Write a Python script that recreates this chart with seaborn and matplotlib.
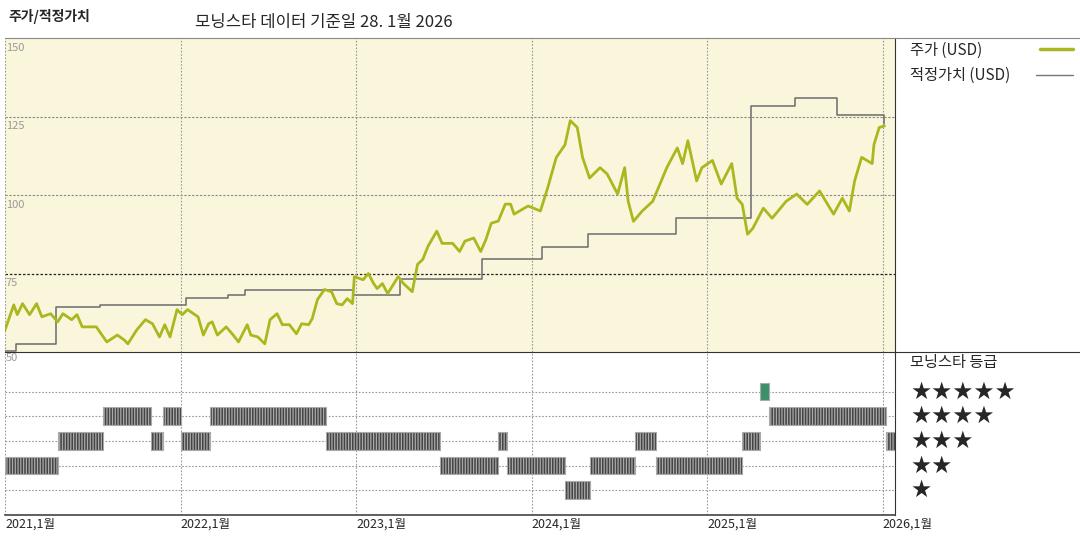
import numpy as np
import pandas as pd
import matplotlib
matplotlib.use("Agg")
import matplotlib.pyplot as plt
from matplotlib.lines import Line2D
import seaborn as sns

# price (USD), decimal years
price_t = [2021.00, 2021.05, 2021.07, 2021.10, 2021.14, 2021.18, 2021.21, 2021.26, 2021.30, 2021.33,
           2021.38, 2021.41, 2021.44, 2021.52, 2021.58, 2021.64, 2021.68, 2021.70, 2021.75, 2021.80,
           2021.84, 2021.88, 2021.91, 2021.94, 2021.98, 2022.01, 2022.04, 2022.10, 2022.13, 2022.16,
           2022.18, 2022.21, 2022.26, 2022.30, 2022.33, 2022.38, 2022.40, 2022.44, 2022.48, 2022.51,
           2022.55, 2022.58, 2022.62, 2022.66, 2022.69, 2022.73, 2022.75, 2022.78, 2022.82, 2022.86,
           2022.89, 2022.92, 2022.95, 2022.98, 2022.99, 2023.04, 2023.07, 2023.10, 2023.12, 2023.15,
           2023.18, 2023.24, 2023.27, 2023.32, 2023.35, 2023.38, 2023.41, 2023.46, 2023.49, 2023.55,
           2023.59, 2023.62, 2023.67, 2023.71, 2023.74, 2023.77, 2023.81, 2023.85, 2023.88, 2023.90,
           2023.98, 2024.05, 2024.09, 2024.14, 2024.19, 2024.22, 2024.26, 2024.29, 2024.33, 2024.39,
           2024.43, 2024.49, 2024.53, 2024.55, 2024.58, 2024.63, 2024.69, 2024.77, 2024.83, 2024.86,
           2024.89, 2024.94, 2024.97, 2025.03, 2025.08, 2025.14, 2025.17, 2025.20, 2025.23, 2025.26,
           2025.32, 2025.37, 2025.45, 2025.51, 2025.57, 2025.64, 2025.72, 2025.77, 2025.81, 2025.84,
           2025.88, 2025.94, 2025.95, 2025.98, 2026.01]
price_v = [57.0, 65.0, 61.9, 65.4, 61.9, 65.4, 61.2, 62.2, 59.6, 62.2,
           60.3, 61.9, 58.0, 58.0, 53.2, 55.4, 53.8, 52.6, 57.0, 60.3,
           59.0, 54.8, 58.7, 54.8, 63.5, 61.9, 63.5, 61.2, 55.4, 59.0,
           59.6, 55.4, 58.0, 55.4, 53.2, 58.7, 55.4, 54.8, 52.6, 60.3,
           62.2, 58.7, 58.7, 55.8, 59.0, 58.7, 60.6, 66.7, 69.9, 69.2,
           65.4, 65.0, 67.0, 65.4, 74.0, 73.0, 75.0, 71.8, 70.2, 71.8,
           68.6, 74.0, 71.8, 69.2, 77.9, 79.5, 83.7, 88.5, 84.6, 84.6,
           82.0, 85.3, 86.3, 82.0, 85.9, 91.0, 91.7, 97.1, 97.1, 93.9,
           96.5, 94.9, 102.0, 111.9, 116.0, 123.7, 121.5, 112.0, 105.4, 108.7,
           106.7, 100.3, 108.7, 98.0, 91.6, 94.9, 98.0, 108.7, 115.0, 110.0,
           117.3, 104.5, 108.7, 111.0, 103.5, 110.0, 99.0, 97.0, 87.5, 89.4,
           95.8, 92.6, 98.0, 100.3, 97.0, 101.3, 93.9, 99.0, 94.9, 104.5,
           112.0, 110.0, 116.0, 121.5, 122.0]

# fair value (USD), step changes
fair_t = [2021.00, 2021.06, 2021.29, 2021.54, 2022.03, 2022.27, 2022.37, 2022.51, 2022.98,
          2023.25, 2023.72, 2024.06, 2024.32, 2024.82, 2025.25, 2025.50, 2025.74, 2026.01]
fair_v = [50.3, 52.6, 64.4, 65.0, 67.1, 68.3, 69.6, 69.9, 68.3,
          73.1, 79.5, 83.3, 87.7, 92.6, 128.5, 130.8, 125.6, 122.7]

# star rating periods
rating_start = [2021.00, 2021.30, 2021.56, 2021.83, 2021.90, 2022.00, 2022.17, 2022.83, 2023.48,
                2023.81, 2023.86, 2024.19, 2024.33, 2024.59, 2024.71, 2025.20, 2025.30, 2025.35, 2026.02]
rating_end = [2021.30, 2021.56, 2021.83, 2021.90, 2022.00, 2022.17, 2022.83, 2023.48, 2023.81,
              2023.86, 2024.19, 2024.33, 2024.59, 2024.71, 2025.20, 2025.30, 2025.35, 2026.02, 2026.07]
rating_stars = [2, 3, 4, 3, 4, 3, 4, 3, 2, 3, 2, 1, 2, 3, 2, 3, 5, 4, 3]

years = [2021, 2022, 2023, 2024, 2025, 2026]
year_labels = ["2021,1월", "2022,1월", "2023,1월", "2024,1월", "2025,1월", "2026,1월"]

sns.set_style("white")
plt.rcParams['font.family'] = ['Noto Sans CJK KR', 'DejaVu Sans']
plt.rcParams['hatch.color'] = '#111111'
plt.rcParams['hatch.linewidth'] = 0.9

GREEN = '#A9B81E'
XMAX = 2026.07

fig = plt.figure(figsize=(10.8, 5.4), dpi=100)
ax = fig.add_axes([5 / 1080, 1 - 352 / 540, 890 / 1080, 314 / 540])
ax2 = fig.add_axes([5 / 1080, 1 - 515 / 540, 890 / 1080, 163 / 540])

# top panel
ax.set_facecolor('#FAF6DC')
price_df = pd.DataFrame({'t': price_t, 'v': price_v})
fair_df = pd.DataFrame({'t': fair_t, 'v': fair_v})
sns.lineplot(data=fair_df, x='t', y='v', ax=ax, color='#6b6b6b', lw=1.1,
             drawstyle='steps-post', zorder=3)
sns.lineplot(data=price_df, x='t', y='v', ax=ax, color=GREEN, lw=2.0, zorder=4)
ax.set_xlim(2021, XMAX)
ax.set_ylim(50, 150)
for v in [125, 100]:
    ax.axhline(v, color='#888888', lw=0.8, ls=(0, (2, 1.5)))
ax.axhline(75, color='#222222', lw=0.9, ls=(0, (2, 1.5)))
for y in years:
    ax.axvline(y, color='#999999', lw=0.8, ls=(0, (1.5, 1.5)))
for v in [150, 125, 100, 75]:
    ax.text(2021.005, v - 1.5, str(v), color='#999999', fontsize=8, va='top', ha='left')
ax.set_xticks([]); ax.set_yticks([])
ax.set_xlabel(''); ax.set_ylabel('')
for s in ['left', 'bottom']:
    ax.spines[s].set_visible(False)
ax.spines['top'].set_color('#888888')
ax.spines['right'].set_color('#333333')

# bottom panel
ax2.set_xlim(2021, XMAX)
ax2.set_ylim(0, 6.6)
for r in range(1, 6):
    ax2.axhline(r, color='#999999', lw=0.8, ls=(0, (1.5, 1.5)), zorder=1)
for y in years:
    ax2.axvline(y, color='#999999', lw=0.8, ls=(0, (1.5, 1.5)), zorder=1)
for s, e, r in zip(rating_start, rating_end, rating_stars):
    fc = '#3d8f6a' if r == 5 else '#444444'
    ax2.broken_barh([(s, e - s)], (r - 0.36, 0.72), facecolors=fc,
                    edgecolor='#aaaaaa', lw=0.8, hatch='||||||' if r != 5 else None, zorder=2)
ax2.text(2021.005, 6.55, '50', color='#999999', fontsize=8, va='top', ha='left')
ax2.set_xticks(years)
ax2.set_xticklabels(year_labels, fontsize=9, ha='left')
ax2.tick_params(axis='x', length=0, pad=2)
ax2.set_yticks([])
ax2.spines['left'].set_visible(False)
ax2.spines['top'].set_color('#333333')
ax2.spines['right'].set_color('#333333')
ax2.spines['bottom'].set_color('#444444')
ax2.spines['bottom'].set_linewidth(1.2)

# headline
fig.text(8 / 1080, 1 - 17 / 540, '주가/적정가치', fontsize=10, fontweight='bold', va='center')
fig.text(195 / 1080, 1 - 22 / 540, '모닝스타 데이터 기준일 28. 1월 2026', fontsize=12, va='center')

# legend area
fig.add_artist(Line2D([895 / 1080, 1], [1 - 38 / 540] * 2, color='#888888', lw=0.8))
fig.add_artist(Line2D([895 / 1080, 1], [1 - 352 / 540] * 2, color='#333333', lw=0.8))
fig.text(910 / 1080, 1 - 50 / 540, '주가 (USD)', fontsize=11, va='center')
fig.add_artist(Line2D([1040 / 1080, 1073 / 1080], [1 - 49 / 540] * 2, color=GREEN, lw=2.5))
fig.text(910 / 1080, 1 - 75 / 540, '적정가치 (USD)', fontsize=11, va='center')
fig.add_artist(Line2D([1036 / 1080, 1073 / 1080], [1 - 75 / 540] * 2, color='#777777', lw=1.0))
fig.text(910 / 1080, 1 - 363 / 540, '모닝스타 등급', fontsize=11, va='center')
star_rows = {5: 392, 4: 416, 3: 441, 2: 466, 1: 490}
for n, ypx in star_rows.items():
    fig.text(910 / 1080, 1 - ypx / 540, '★' * n, fontsize=17, va='center',
             family=['DejaVu Sans'])

fig.savefig('out.png', dpi=100)
